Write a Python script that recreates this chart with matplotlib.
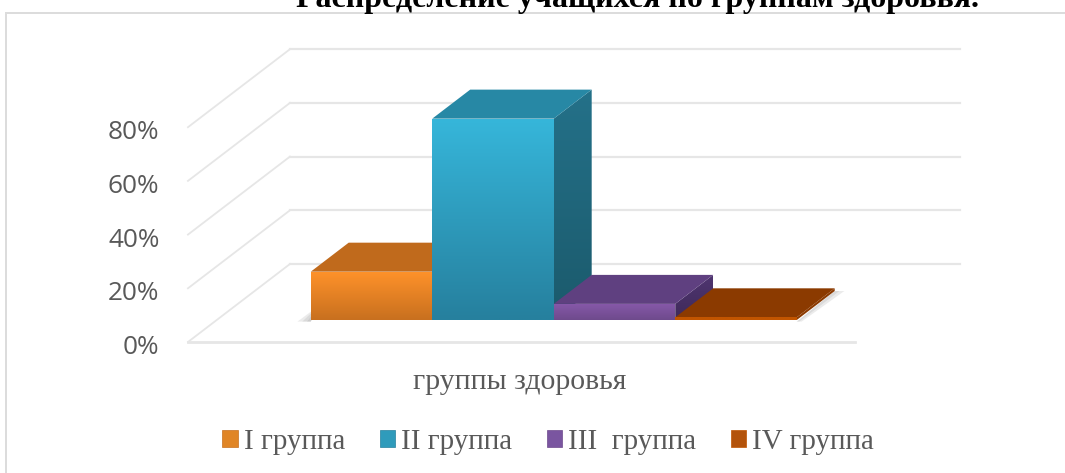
import numpy as np
import matplotlib
matplotlib.use('Agg')
import matplotlib.pyplot as plt
from matplotlib.colors import to_rgb
from matplotlib.lines import Line2D
from matplotlib.patches import Patch, Polygon

title = 'Распределение учащихся по группам здоровья.'
xLabel = 'группы здоровья'
groups = ['I группа', 'II группа', 'III  группа', 'IV группа']
values = [18, 75, 6, 1]
yTicks = [0, 20, 40, 60, 80]
yTickLabels = ['0%', '20%', '40%', '60%', '80%']

#Colours per bar: front top, front bottom, lid, side top, side bottom, legend
frontTop = ['#ff922a', '#36b6da', '#8759aa', '#c25500']
frontBottom = ['#c8701f', '#26809e', '#6e4a8c', '#c25500']
lid = ['#c06a1c', '#2788a5', '#5f4080', '#8b3a00']
sideTop = ['#a85d18', '#247189', '#4f3570', '#8b3a00']
sideBottom = ['#a85d18', '#1b5a6c', '#3f2a5a', '#8b3a00']
legendColor = ['#e08526', '#2f9bbb', '#7a55a0', '#b3530b']

#Pixel sizes of one x unit and one percent
unitX = 121.5
unitY = 2.685
#Shift of the whole floor depth, in data units
depthX = 102 / unitX
depthY = 78 / unitY
barFront = 22 / 78
barBack = 51 / 78

fig = plt.figure(figsize=(10.65, 4.73), dpi=100)
ax = fig.add_axes([0, 0, 1, 1])
ax.axis('off')


#Oblique projection: d = 0 is the front of the floor, d = 1 the back wall
def proj(x, v, d):
    return (x + d * depthX, v + d * depthY)


def face(points, top, bottom, z):
    xs = [p[0] for p in points]
    ys = [p[1] for p in points]
    c1 = np.array(to_rgb(top))
    c2 = np.array(to_rgb(bottom))
    t = np.linspace(0, 1, 64)[:, None, None]
    grad = c1[None, None, :] * (1 - t) + c2[None, None, :] * t
    im = ax.imshow(grad, extent=(min(xs), max(xs), min(ys), max(ys)), origin='upper',
                   aspect='auto', interpolation='bilinear', zorder=z)
    clip = Polygon(points, transform=ax.transData)
    im.set_clip_path(clip)


#Grid
gridColor = '#e6e6e6'
left = -0.774
right = 4.72
for v in yTicks:
    ax.plot(*zip(proj(left, v, 0), proj(left, v, 1)), color=gridColor, lw=1.3, zorder=1)
    ax.plot(*zip(proj(left, v, 1), proj(right + 0.02, v, 1)), color=gridColor, lw=1.6, zorder=1)
ax.plot(*zip(proj(left, 0, 0), proj(right, 0, 0)), color=gridColor, lw=2, zorder=1)

for v, lab in zip(yTicks, yTickLabels):
    ax.text(left - 0.235, v - 5.5 / unitY, lab, ha='right', va='center', family='Open Sans',
            fontsize=18.8, color='#595959')

#Soft shadow on the floor
for a, grow in zip([0.14, 0.14, 0.14], [0.0, 0.04, 0.08]):
    ax.add_patch(Polygon([proj(-0.03 - grow, -0.6, barFront), proj(4.0, -0.6, barFront),
                          proj(4.0, 0, barBack), proj(4.0 + grow, 0, barBack),
                          proj(4.0 + grow * 0.5, -0.6, barFront)],
                         color='#777777', alpha=a, lw=0, zorder=2))
    ax.add_patch(Polygon([proj(-0.03 - grow, -0.6, barFront), proj(0, -0.6, barFront),
                          proj(0, 3, barFront + .08)],
                         color='#777777', alpha=a, lw=0, zorder=2))

#Bars left to right so each one covers the one before it
for i, v in enumerate(values):
    z = 3 + i
    x0, x1 = i, i + 1
    face([proj(x1, 0, barFront), proj(x1, 0, barBack), proj(x1, v, barBack), proj(x1, v, barFront)],
         sideTop[i], sideBottom[i], z)
    ax.add_patch(Polygon([proj(x0, v, barFront), proj(x1, v, barFront),
                          proj(x1, v, barBack), proj(x0, v, barBack)],
                         color=lid[i], lw=0, zorder=z))
    face([proj(x0, 0, barFront), proj(x1, 0, barFront), proj(x1, v, barFront), proj(x0, v, barFront)],
         frontTop[i], frontBottom[i], z + 0.5)

ax.set_xlim(-282 / unitX, (1065 - 282) / unitX)
ax.set_ylim(-(473 - 342) / unitY, 342 / unitY)

#Chart frame: only the top and left edges are inside the picture
frameColor = '#dcdcdc'
fig.add_artist(Line2D([6 / 1065, 1], [1 - 13.5 / 473] * 2, color=frameColor, lw=1.4))
fig.add_artist(Line2D([6 / 1065] * 2, [0, 1 - 13.5 / 473], color=frameColor, lw=1.4))

#Chart title is cut off by the top of the picture, same as the reference
fig.text(637 / 1065, 1 - 7.5 / 473, title, ha='center', va='baseline', family='Liberation Serif',
         fontweight='bold', fontsize=23, color='black')
fig.text(520 / 1065, 1 - 382 / 473, xLabel, ha='center', va='center', family='Liberation Serif',
         fontsize=21.4, color='#595959')

handles = [Patch(facecolor=legendColor[i], edgecolor=frontBottom[i], lw=0.5) for i in range(4)]
fig.legend(handles, groups, ncol=4, loc='center', bbox_to_anchor=(548 / 1065, 1 - 442 / 473),
           frameon=False, prop={'family': 'Liberation Serif', 'size': 20.9},
           labelcolor='#595959', handlelength=0.53, handleheight=0.53, handletextpad=0.2,
           columnspacing=1.2)

plt.savefig('out.png', dpi=100)
